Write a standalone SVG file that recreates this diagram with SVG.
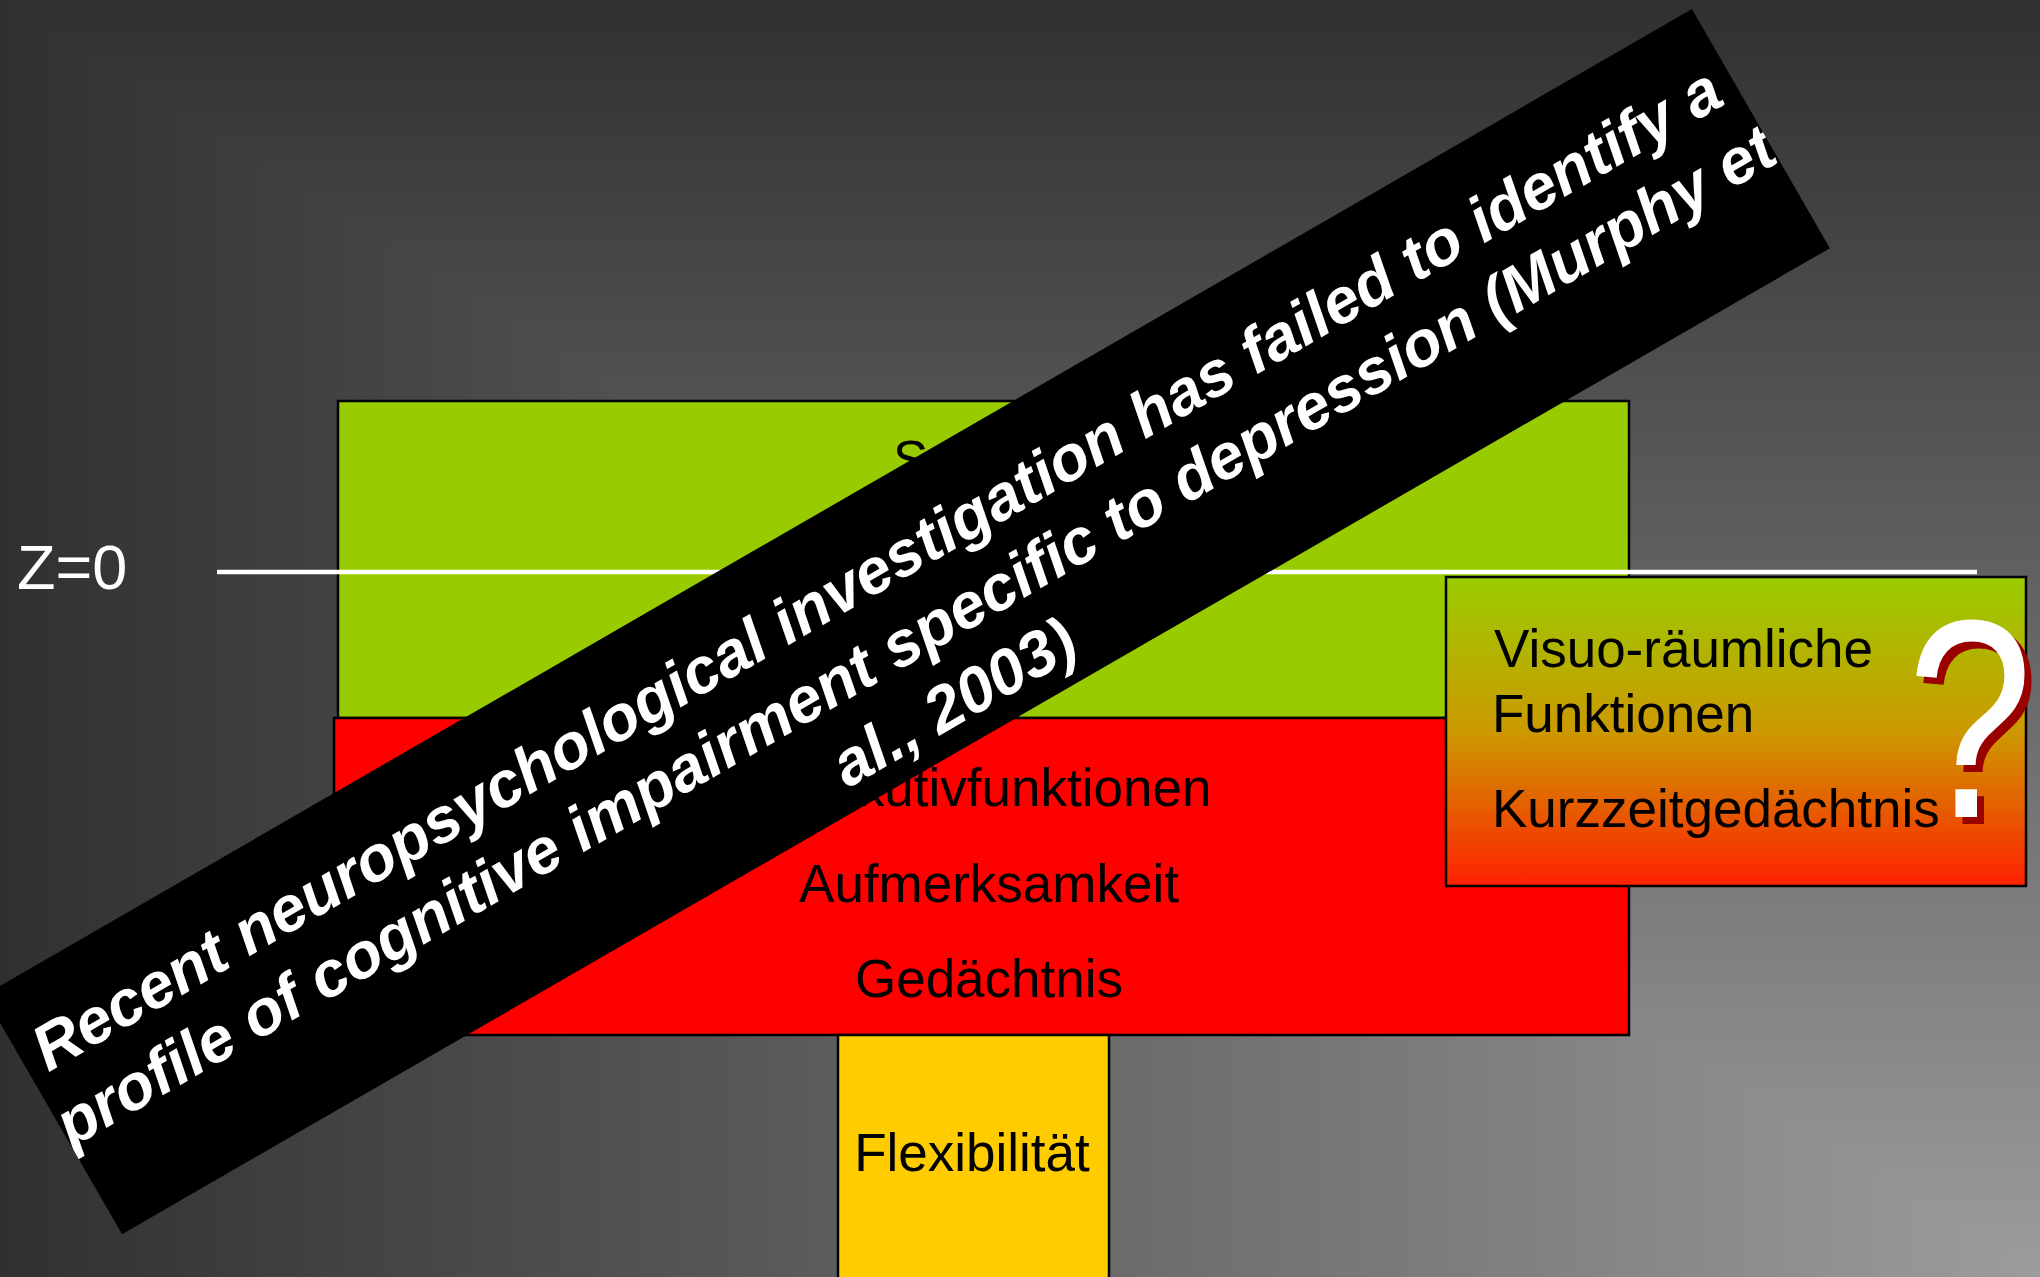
<svg xmlns="http://www.w3.org/2000/svg" width="2040" height="1277" viewBox="0 0 2040 1277">
  <defs>
    <linearGradient id="bgH" gradientUnits="userSpaceOnUse" x1="0" y1="0" x2="2040" y2="0">
      <stop offset="0" stop-color="#303030"/>
      <stop offset="1" stop-color="#9c9c9c"/>
    </linearGradient>
    <linearGradient id="bgV" gradientUnits="userSpaceOnUse" x1="0" y1="0" x2="0" y2="1277">
      <stop offset="0" stop-color="#303030"/>
      <stop offset="1" stop-color="#9c9c9c"/>
    </linearGradient>
    <linearGradient id="boxGrad" x1="0" y1="0" x2="0" y2="1">
      <stop offset="0" stop-color="#99cc00"/>
      <stop offset="0.5" stop-color="#cc9900"/>
      <stop offset="1" stop-color="#ff2000"/>
    </linearGradient>
    <clipPath id="bannerClip">
      <rect x="-986" y="-139" width="1972" height="276"/>
    </clipPath>
  </defs>
  <style>
    .box { stroke: #000000; stroke-width: 2.5; }
    .lbl { font-family: "Liberation Sans", Arial, sans-serif; font-size: 53px; fill: #000000; }
    .ctr { text-anchor: middle; }
    .banner-text { font-family: "Liberation Sans", Arial, sans-serif; font-size: 64px; font-weight: bold; font-style: italic; fill: #ffffff; text-anchor: middle; }
    .qmark { font-family: "Liberation Sans", Arial, sans-serif; font-size: 283px; }
  </style>

  <g id="background">
    <rect x="0" y="0" width="2040" height="1277" fill="url(#bgH)"/>
    <polygon points="0,0 2040,0 2040,1277" fill="url(#bgV)"/>
  </g>

  <g id="node-green">
    <rect class="box" x="338" y="401" width="1291" height="317" fill="#99cc00"/>
    <text class="lbl" x="893" y="478">S</text>
  </g>

  <g id="node-red">
    <rect class="box" x="334" y="718" width="1295" height="317" fill="#ff0000"/>
    <text class="lbl ctr" x="989" y="806">Exekutivfunktionen</text>
    <text class="lbl ctr" x="989" y="902">Aufmerksamkeit</text>
    <text class="lbl ctr" x="989" y="997">Gedächtnis</text>
  </g>

  <g id="node-yellow">
    <rect class="box" x="838" y="1035" width="271" height="260" fill="#ffcc00"/>
    <text class="lbl ctr" x="972" y="1171">Flexibilität</text>
  </g>

  <g id="connectors">
    <line x1="217" y1="572" x2="1977" y2="572" stroke="#ffffff" stroke-width="4.5"/>
  </g>

  <g id="label-z0">
    <text x="17" y="589" font-family="'Liberation Sans', Arial, sans-serif" font-size="63" fill="#ffffff">Z=0</text>
  </g>

  <g id="node-right">
    <rect class="box" x="1446" y="577" width="580" height="309" fill="url(#boxGrad)"/>
    <text class="lbl" x="1494" y="667">Visuo-räumliche</text>
    <text class="lbl" x="1492" y="732">Funktionen</text>
    <text class="lbl" x="1492" y="827">Kurzzeitgedächtnis</text>
    <text class="qmark" transform="translate(1922,824) scale(0.8,1)" x="-10" y="0" fill="#990000">?</text>
    <text class="qmark" transform="translate(1915,817) scale(0.8,1)" x="-10" y="0" fill="#ffffff">?</text>
  </g>

  <g id="banner" transform="translate(907.5,622.5) rotate(-30)">
    <rect x="-986" y="-139" width="1972" height="276" fill="#000000"/>
    <g clip-path="url(#bannerClip)">
      <text class="banner-text" x="0" y="-40">Recent neuropsychological investigation has failed to identify a</text>
      <text class="banner-text" x="0" y="37">profile of cognitive impairment specific to depression (Murphy et</text>
      <text class="banner-text" x="0" y="114">al., 2003)</text>
    </g>
  </g>
</svg>
